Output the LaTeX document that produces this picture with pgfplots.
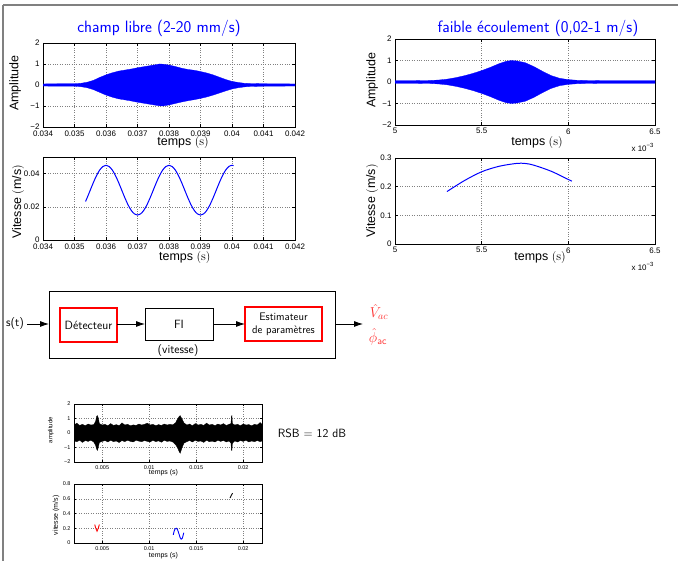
\documentclass[border=0pt]{standalone}
\usepackage{fontspec}
\usepackage{pgfplots}
\pgfplotsset{compat=1.18}
\usetikzlibrary{arrows.meta}
\newfontfamily\hv{Liberation Sans}

\pgfplotsset{
  matlab/.style={
    scale only axis, anchor=south west, scaled ticks=false,
    axis line style={line width=0.8pt},
    tick align=inside, major tick length=3bp,
    tick style={line width=0.4pt, black},
    grid=major, grid style={dotted, line width=0.5pt, black!50},
    ticklabel style={font=\hv\fontsize{8}{8}\selectfont},
    label style={font=\hv\fontsize{12.5}{13}\selectfont},
  },
  small/.style={
    ticklabel style={font=\hv\fontsize{5.5}{5.5}\selectfont},
    label style={font=\hv\fontsize{7}{7}\selectfont},
    major tick length=2bp,
  },
}

\begin{document}
\begin{tikzpicture}[x=1bp, y=1bp]
\path[use as bounding box] (0,0) rectangle (678,561);
\draw[gray, line width=1.5bp] (3,556) -- (678,556);
\draw[gray, line width=1.5bp] (3,556) -- (3,0);

% titles
\node[blue, font=\sffamily\fontsize{16.5}{17}\selectfont] at (159,533) {champ libre (2-20 mm/s)};
\node[blue, font=\sffamily\fontsize{16.5}{17}\selectfont] at (538,533) {faible écoulement (0,02-1 m/s)};

% champ libre, amplitude
\begin{axis}[matlab, at={(43bp,434bp)}, width=252bp, height=84bp,
  xmin=0.034, xmax=0.042, ymin=-2, ymax=2,
  xtick={0.034,0.035,0.036,0.037,0.038,0.039,0.04,0.041,0.042},
  xticklabels={0.034,0.035,0.036,0.037,0.038,0.039,0.04,0.041,0.042},
  ytick={-2,-1,0,1,2}, yticklabels={−2,−1,0,1,2},
  xlabel={temps $(\mathrm{s})$},
  xlabel style={at={(axis description cs:0.556,0)}, anchor=center, yshift=-16bp},
  ylabel={Amplitude},
  ylabel style={at={(axis description cs:-0.111,0.52)}, anchor=center}]
\addplot[blue, fill=blue, line width=0.3pt] coordinates {
  (0.034,0.05)(0.0345,0.06)(0.035,0.06)(0.0352,0.08)(0.0354,0.13)(0.0356,0.22)
  (0.0358,0.36)(0.036,0.48)(0.0362,0.58)(0.0364,0.66)(0.0366,0.71)(0.0368,0.76)
  (0.037,0.82)(0.0372,0.87)(0.0374,0.92)(0.0376,0.97)(0.0377,1.0)(0.0378,0.99)
  (0.038,0.95)(0.0382,0.88)(0.0384,0.8)(0.0386,0.74)(0.0388,0.7)(0.039,0.64)
  (0.0392,0.57)(0.0394,0.48)(0.0396,0.37)(0.0398,0.26)(0.04,0.17)(0.0402,0.12)
  (0.0404,0.08)(0.0406,0.07)(0.041,0.06)(0.042,0.05)
  (0.042,-0.05)(0.041,-0.06)(0.0406,-0.07)(0.0404,-0.09)(0.0402,-0.13)(0.04,-0.19)
  (0.0398,-0.28)(0.0396,-0.38)(0.0394,-0.48)(0.0392,-0.57)(0.039,-0.64)(0.0388,-0.7)
  (0.0386,-0.75)(0.0384,-0.81)(0.0382,-0.88)(0.038,-0.95)(0.0378,-1.0)(0.0377,-0.99)
  (0.0376,-0.97)(0.0374,-0.92)(0.0372,-0.87)(0.037,-0.82)(0.0368,-0.76)(0.0366,-0.71)
  (0.0364,-0.66)(0.0362,-0.58)(0.036,-0.48)(0.0358,-0.35)(0.0356,-0.22)(0.0354,-0.13)
  (0.0352,-0.08)(0.035,-0.06)(0.0345,-0.06)(0.034,-0.05)};
\end{axis}

% faible ecoulement, amplitude
\begin{axis}[matlab, at={(395bp,436bp)}, width=260bp, height=86bp,
  xmin=5, xmax=6.5, ymin=-2, ymax=2,
  xtick={5,5.5,6,6.5}, xticklabels={5,5.5,6,6.5},
  ytick={-2,-1,0,1,2}, yticklabels={−2,−1,0,1,2},
  xlabel={temps $(\mathrm{s})$},
  xlabel style={at={(axis description cs:0.546,0)}, anchor=center, yshift=-18bp},
  ylabel={Amplitude},
  ylabel style={at={(axis description cs:-0.088,0.52)}, anchor=center}]
\addplot[blue, fill=blue, line width=0.3pt] coordinates {
  (5,0.06)(5.1,0.06)(5.2,0.07)(5.25,0.09)(5.3,0.13)(5.35,0.2)(5.4,0.29)(5.45,0.4)
  (5.5,0.53)(5.55,0.68)(5.6,0.85)(5.64,0.96)(5.67,1.0)(5.7,0.98)(5.75,0.9)(5.8,0.72)
  (5.85,0.5)(5.9,0.3)(5.95,0.17)(6,0.11)(6.05,0.08)(6.1,0.07)(6.2,0.06)(6.5,0.06)
  (6.5,-0.06)(6.2,-0.06)(6.1,-0.07)(6.05,-0.08)(6,-0.11)(5.95,-0.17)(5.9,-0.3)
  (5.85,-0.5)(5.8,-0.72)(5.75,-0.9)(5.7,-0.98)(5.67,-1.0)(5.64,-0.96)(5.6,-0.85)
  (5.55,-0.68)(5.5,-0.53)(5.45,-0.4)(5.4,-0.29)(5.35,-0.2)(5.3,-0.13)(5.25,-0.09)
  (5.2,-0.07)(5.1,-0.06)(5,-0.06)};
\end{axis}
\node[font=\hv\fontsize{8}{8}\selectfont, anchor=east] at (657,414) {x 10\raisebox{4bp}{\fontsize{6}{6}\selectfont −3}};

% champ libre, vitesse
\begin{axis}[matlab, at={(43bp,321bp)}, width=252bp, height=83bp,
  xmin=0.034, xmax=0.042, ymin=0, ymax=0.05,
  xtick={0.034,0.035,0.036,0.037,0.038,0.039,0.04,0.041,0.042},
  xticklabels={0.034,0.035,0.036,0.037,0.038,0.039,0.04,0.041,0.042},
  ytick={0,0.02,0.04}, yticklabels={0,0.02,0.04},
  xlabel={temps $(\mathrm{s})$},
  xlabel style={at={(axis description cs:0.563,0)}, anchor=center, yshift=-18bp},
  ylabel={Vitesse $($m/s$)$},
  ylabel style={at={(axis description cs:-0.099,0.46)}, anchor=center}]
\addplot[blue, line width=1pt, smooth] coordinates {
  (0.03535,0.0232)(0.0354,0.02536)(0.0355,0.03)(0.0356,0.03464)(0.0357,0.03882)
  (0.0358,0.04214)(0.0359,0.04427)(0.0360,0.045)(0.0361,0.04427)(0.0362,0.04214)
  (0.0363,0.03882)(0.0364,0.03464)(0.0365,0.03)(0.0366,0.02536)(0.0367,0.02118)
  (0.0368,0.01786)(0.0369,0.01573)(0.0370,0.015)(0.0371,0.01573)(0.0372,0.01786)
  (0.0373,0.02118)(0.0374,0.02536)(0.0375,0.03)(0.0376,0.03464)(0.0377,0.03882)
  (0.0378,0.04214)(0.0379,0.04427)(0.0380,0.045)(0.0381,0.04427)(0.0382,0.04214)
  (0.0383,0.03882)(0.0384,0.03464)(0.0385,0.03)(0.0386,0.02536)(0.0387,0.02118)
  (0.0388,0.01786)(0.0389,0.01573)(0.0390,0.015)(0.0391,0.01573)(0.0392,0.01786)
  (0.0393,0.02118)(0.0394,0.02536)(0.0395,0.03)(0.0396,0.03464)(0.0397,0.03882)
  (0.0398,0.04214)(0.0399,0.04427)(0.0400,0.045)(0.04005,0.0448)};
\end{axis}

% faible ecoulement, vitesse
\begin{axis}[matlab, at={(395bp,317bp)}, width=260bp, height=86bp,
  xmin=5, xmax=6.5, ymin=0, ymax=0.3,
  xtick={5,5.5,6,6.5}, xticklabels={5,5.5,6,6.5},
  ytick={0,0.1,0.2,0.3}, yticklabels={0,0.1,0.2,0.3},
  xlabel={temps $(\mathrm{s})$},
  xlabel style={at={(axis description cs:0.558,0)}, anchor=center, yshift=-14bp},
  ylabel={Vitesse $($m/s$)$},
  ylabel style={at={(axis description cs:-0.088,0.5)}, anchor=center}]
\addplot[blue, line width=1pt, smooth] coordinates {
  (5.3,0.183)(5.4,0.221)(5.5,0.252)(5.6,0.271)(5.7,0.281)(5.75,0.281)(5.8,0.275)
  (5.9,0.254)(6.0,0.225)(6.02,0.219)};
\end{axis}
\node[font=\hv\fontsize{8}{8}\selectfont, anchor=east] at (657,295) {x 10\raisebox{4bp}{\fontsize{6}{6}\selectfont −3}};

% block diagram
\begin{scope}[font=\sffamily\fontsize{12}{13}\selectfont, >={Latex[length=9bp,width=6bp]}]
\draw[line width=0.8bp] (49,203) rectangle (335,270);
\draw[red, line width=1.2bp] (60,219) rectangle (117,253);
\draw[line width=0.8bp] (145,221) rectangle (213,253);
\draw[red, line width=1.2bp] (245,220) rectangle (322,254);
\node at (88.5,236) {Détecteur};
\node at (179,237) {FI};
\node[align=center, font=\sffamily\fontsize{11}{13}\selectfont] at (283.5,237) {Estimateur\\de paramètres};
\node at (178,210) {(vitesse)};
\node at (15,237) {s(t)};
\draw[->, line width=0.8bp] (27,237) -- (49,237);
\draw[->, line width=0.8bp] (117,237) -- (145,237);
\draw[->, line width=0.8bp] (213,237) -- (245,237);
\draw[->, line width=0.8bp] (335,237) -- (363,237);
\node[red!80, font=\fontsize{14}{14}\selectfont, inner sep=0pt] at (379,249) {$\hat{V}_{ac}$};
\node[red!80, font=\fontsize{14}{14}\selectfont, inner sep=0pt] at (378,224) {$\hat{\phi}_{\mbox{\sffamily\fontsize{10}{10}\selectfont ac}}$};
\end{scope}

\node[font=\sffamily\fontsize{12}{13}\selectfont] at (312,128) {RSB $=$ 12 dB};

% bruit, amplitude
\begin{axis}[matlab, small, at={(74bp,99bp)}, width=188bp, height=58bp,
  xmin=0.002, xmax=0.022, ymin=-2, ymax=2,
  xtick={0.005,0.01,0.015,0.02}, xticklabels={0.005,0.01,0.015,0.02},
  ytick={-2,-1,0,1,2}, yticklabels={−2,−1,0,1,2},
  xlabel={temps (s)},
  xlabel style={at={(axis description cs:0.476,0)}, anchor=center, yshift=-11bp},
  ylabel={amplitude},
  ylabel style={font=\hv\fontsize{6}{6}\selectfont, at={(axis description cs:-0.123,0.55)}, anchor=center}]
\addplot[black, fill=black, line width=0.3pt] coordinates {
  (0.002,0.55)(0.0023,0.68)(0.0026,0.52)(0.0029,0.6)(0.0032,0.5)(0.0035,0.62)
  (0.0038,0.55)(0.0041,0.58)(0.0043,0.8)(0.0044,1.15)(0.0045,1.2)(0.0046,1.0)
  (0.0047,0.65)(0.0050,0.55)(0.0053,0.6)(0.0056,0.5)(0.0059,0.65)(0.0062,0.52)
  (0.0065,0.58)(0.0068,0.5)(0.0071,0.7)(0.0074,0.55)(0.0077,0.6)(0.0080,0.5)
  (0.0083,0.56)(0.0086,0.52)(0.0089,0.62)(0.0092,0.55)(0.0095,0.6)(0.0098,0.68)
  (0.0101,0.55)(0.0104,0.6)(0.0107,0.5)(0.0110,0.58)(0.0113,0.52)(0.0116,0.62)
  (0.0119,0.55)(0.0122,0.6)(0.0125,0.56)(0.0128,0.7)(0.0130,0.95)(0.0132,1.15)
  (0.0133,1.2)(0.0135,0.95)(0.0137,0.7)(0.0140,0.55)(0.0143,0.62)(0.0146,0.5)
  (0.0149,0.65)(0.0152,0.55)(0.0155,0.6)(0.0158,0.52)(0.0161,0.68)(0.0164,0.55)
  (0.0167,0.6)(0.0170,0.5)(0.0173,0.62)(0.0176,0.55)(0.0179,0.65)(0.0182,0.52)
  (0.0185,0.6)(0.0187,0.65)(0.01875,1.15)(0.0188,1.2)(0.01885,0.65)(0.0191,0.55)
  (0.0194,0.6)(0.0197,0.5)(0.0200,0.62)(0.0203,0.55)(0.0206,0.58)(0.0209,0.5)
  (0.0212,0.6)(0.0215,0.55)(0.0218,0.72)(0.022,0.6)
  (0.022,-0.55)(0.0218,-0.6)(0.0215,-0.52)(0.0212,-0.6)(0.0209,-0.55)(0.0206,-0.62)
  (0.0203,-0.5)(0.0200,-0.58)(0.0197,-0.52)(0.0194,-0.62)(0.0191,-0.55)(0.01885,-0.7)
  (0.0188,-1.2)(0.01875,-1.2)(0.0187,-0.7)(0.0185,-0.55)(0.0182,-0.62)(0.0179,-0.52)
  (0.0176,-0.58)(0.0173,-0.5)(0.0170,-0.62)(0.0167,-0.56)(0.0164,-0.6)(0.0161,-0.5)
  (0.0158,-0.65)(0.0155,-0.55)(0.0152,-0.58)(0.0149,-0.5)(0.0146,-0.62)(0.0143,-0.52)
  (0.0140,-0.6)(0.0137,-0.7)(0.0135,-1.0)(0.0133,-1.4)(0.0132,-1.3)(0.0130,-1.0)
  (0.0128,-0.8)(0.0125,-0.62)(0.0122,-0.55)(0.0119,-0.58)(0.0116,-0.5)(0.0113,-0.64)
  (0.0110,-0.54)(0.0107,-0.6)(0.0104,-0.5)(0.0101,-0.62)(0.0098,-0.58)(0.0095,-0.52)
  (0.0092,-0.6)(0.0089,-0.56)(0.0086,-0.5)(0.0083,-0.62)(0.0080,-0.58)(0.0077,-0.5)
  (0.0074,-0.6)(0.0071,-0.52)(0.0068,-0.66)(0.0065,-0.55)(0.0062,-0.6)(0.0059,-0.5)
  (0.0056,-0.62)(0.0053,-0.52)(0.0050,-0.58)(0.0047,-0.65)(0.0046,-0.95)(0.0045,-1.2)
  (0.0044,-1.1)(0.0043,-0.85)(0.0041,-0.62)(0.0038,-0.5)(0.0035,-0.58)(0.0032,-0.52)
  (0.0029,-0.65)(0.0026,-0.5)(0.0023,-0.6)(0.002,-0.55)};
\end{axis}

% bruit, vitesse
\begin{axis}[matlab, small, at={(74bp,18bp)}, width=188bp, height=59bp,
  xmin=0.002, xmax=0.022, ymin=0, ymax=0.8,
  xtick={0.005,0.01,0.015,0.02}, xticklabels={0.005,0.01,0.015,0.02},
  ytick={0,0.2,0.4,0.6,0.8}, yticklabels={0,0.2,0.4,0.6,0.8},
  xlabel={temps (s)},
  xlabel style={at={(axis description cs:0.476,0)}, anchor=center, yshift=-13bp},
  ylabel={vitesse (m/s)},
  ylabel style={at={(axis description cs:-0.095,0.47)}, anchor=center}]
\addplot[red, line width=0.9pt] coordinates {
  (0.0042,0.25)(0.00432,0.2)(0.00445,0.16)(0.00458,0.2)(0.0047,0.25)};
\addplot[blue, line width=0.9pt, smooth] coordinates {
  (0.01256,0.11)(0.01265,0.16)(0.01275,0.19)(0.01288,0.2)(0.013,0.185)(0.0131,0.15)
  (0.0132,0.11)(0.0133,0.07)(0.0134,0.052)(0.0135,0.06)(0.0136,0.1)(0.01368,0.14)};
\addplot[black, line width=0.9pt] coordinates {
  (0.0186,0.61)(0.01873,0.645)(0.01887,0.675)};
\end{axis}
\end{tikzpicture}
\end{document}
